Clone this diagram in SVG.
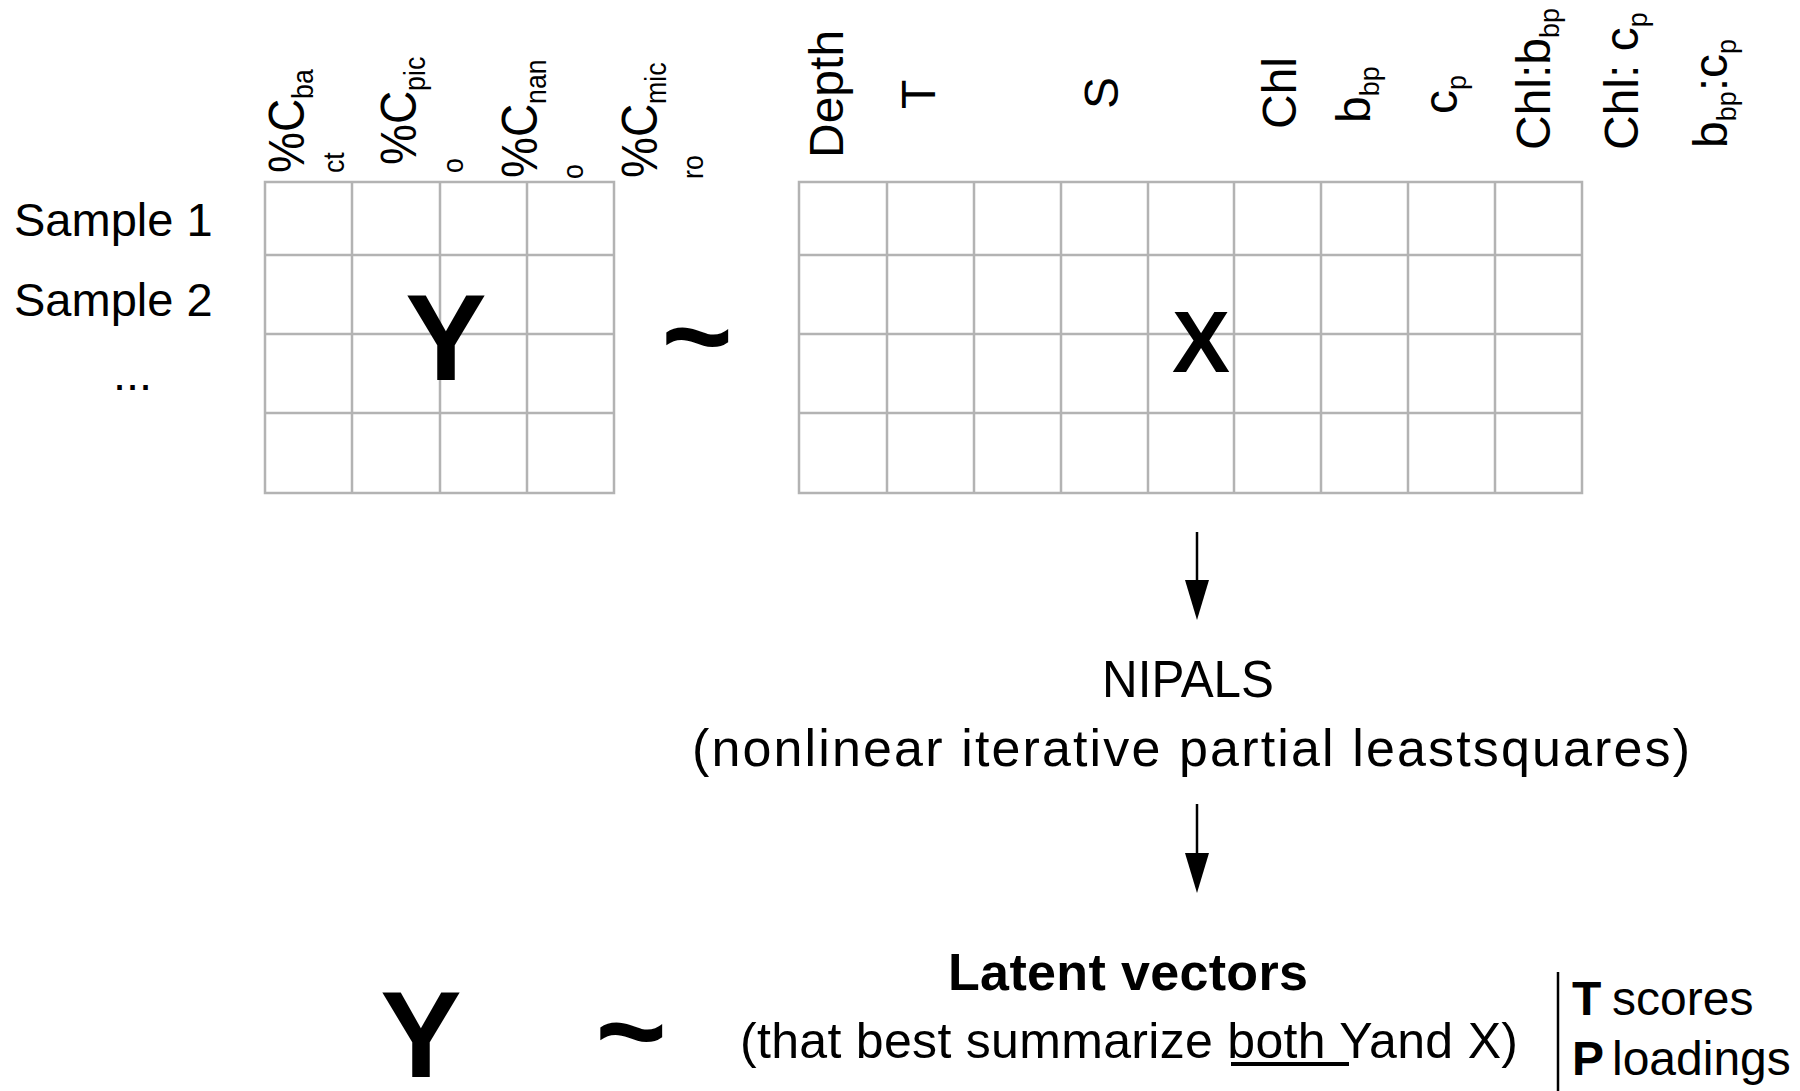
<svg xmlns="http://www.w3.org/2000/svg" width="1800" height="1091" viewBox="0 0 1800 1091">
<style>
text{font-family:"Liberation Sans",Arial,sans-serif;fill:#000}
.h{font-size:50px}
.hs{font-size:29px}
.hx{font-size:48px}
.s{font-size:27px}
.lbl{font-size:47px}
.big{font-size:122px;font-weight:bold}
.mid{font-size:52px}
.grid line,.grid rect{fill:none;stroke:#b3b3b3;stroke-width:2.5}
.conn line{stroke:#000;stroke-width:2.5}
</style>
<defs>
<marker id="ah" markerUnits="userSpaceOnUse" markerWidth="40" markerHeight="24" viewBox="0 0 40 24" refX="20" refY="12" orient="auto"><path d="M0,0L40,12L0,24z" fill="#000"/></marker>
</defs>
<rect width="1800" height="1091" fill="#fff"/>

<g id="y-headers">
<text class="h" transform="translate(304,173) rotate(-90) scale(0.92,1)">%C<tspan class="hs" dy="9">ba</tspan></text>
<text class="hs" transform="translate(344,173) rotate(-90) scale(0.92,1)">ct</text>
<text class="h" transform="translate(416,165) rotate(-90) scale(0.92,1)">%C<tspan class="hs" dy="9">pic</tspan></text>
<text class="hs" transform="translate(463,173) rotate(-90) scale(0.92,1)">o</text>
<text class="h" transform="translate(537,178) rotate(-90) scale(0.92,1)">%C<tspan class="hs" dy="9">nan</tspan></text>
<text class="hs" transform="translate(583,179) rotate(-90) scale(0.92,1)">o</text>
<text class="h" transform="translate(657,178) rotate(-90) scale(0.92,1)">%C<tspan class="hs" dy="9">mic</tspan></text>
<text class="hs" transform="translate(703,179) rotate(-90) scale(0.92,1)">ro</text>
</g>

<g id="x-headers">
<text class="hx" transform="translate(843,158) rotate(-90)">Depth</text>
<text class="hx" transform="translate(935,109) rotate(-90)">T</text>
<text class="hx" transform="translate(1118,109) rotate(-90)">S</text>
<text class="hx" transform="translate(1296,129) rotate(-90)">Chl</text>
<text class="hx" transform="translate(1370,123) rotate(-90)">b<tspan class="s" dy="9">bp</tspan></text>
<text class="hx" transform="translate(1457,114) rotate(-90)">c<tspan class="s" dy="9">p</tspan></text>
<text class="hx" transform="translate(1550,150) rotate(-90)">Chl:b<tspan class="s" dy="9">bp</tspan></text>
<text class="hx" transform="translate(1638,150) rotate(-90)">Chl: c<tspan class="s" dy="9">p</tspan></text>
<text class="hx" transform="translate(1727,148) rotate(-90)">b<tspan class="s" dy="9">bp</tspan><tspan dy="-9">:c</tspan><tspan class="s" dy="9">p</tspan></text>
</g>

<g id="row-labels">
<text class="lbl" x="14" y="236">Sample 1</text>
<text class="lbl" x="14" y="316">Sample 2</text>
<text class="lbl" x="113" y="390">...</text>
</g>

<g id="matrix-y" class="grid">
<rect x="265" y="182" width="349" height="311"/>
<line x1="352" y1="182" x2="352" y2="493"/>
<line x1="440" y1="182" x2="440" y2="493"/>
<line x1="527" y1="182" x2="527" y2="493"/>
<line x1="265" y1="255" x2="614" y2="255"/>
<line x1="265" y1="334" x2="614" y2="334"/>
<line x1="265" y1="413" x2="614" y2="413"/>
<text class="big" x="446" y="380" text-anchor="middle">Y</text>
</g>

<g id="approx-top">
<text class="big" x="697" y="378" text-anchor="middle">~</text>
</g>

<g id="matrix-x" class="grid">
<rect x="799" y="182" width="783" height="311"/>
<line x1="887" y1="182" x2="887" y2="493"/>
<line x1="974" y1="182" x2="974" y2="493"/>
<line x1="1061" y1="182" x2="1061" y2="493"/>
<line x1="1148" y1="182" x2="1148" y2="493"/>
<line x1="1234" y1="182" x2="1234" y2="493"/>
<line x1="1321" y1="182" x2="1321" y2="493"/>
<line x1="1408" y1="182" x2="1408" y2="493"/>
<line x1="1495" y1="182" x2="1495" y2="493"/>
<line x1="799" y1="255" x2="1582" y2="255"/>
<line x1="799" y1="334" x2="1582" y2="334"/>
<line x1="799" y1="413" x2="1582" y2="413"/>
<text x="1201" y="372" text-anchor="middle" style="font-size:87px;font-weight:bold">X</text>
</g>

<g id="nipals">
<text class="mid" x="1188" y="697" text-anchor="middle" textLength="172" lengthAdjust="spacingAndGlyphs">NIPALS</text>
<text class="mid" x="692" y="766" textLength="998" lengthAdjust="spacing">(nonlinear iterative partial leastsquares)</text>
</g>

<g id="result">
<text class="big" x="421" y="1077" text-anchor="middle">Y</text>
<text class="big" x="631" y="1073" text-anchor="middle">~</text>
<text x="1128" y="990" text-anchor="middle" textLength="360" style="font-size:52px;font-weight:bold">Latent vectors</text>
<text x="740" y="1058" textLength="778" lengthAdjust="spacing" style="font-size:50px">(that best summarize both Yand X)</text>
<rect x="1231" y="1062" width="118" height="4" fill="#000"/>
</g>

<g id="components">
<line x1="1558" y1="972" x2="1558" y2="1091" stroke="#000" stroke-width="2.5"/>
<text x="1572" y="1015" style="font-size:48px;font-weight:bold">T</text>
<text x="1612" y="1015" style="font-size:48px">scores</text>
<text x="1572" y="1075" style="font-size:48px;font-weight:bold">P</text>
<text x="1612" y="1075" style="font-size:48px">loadings</text>
</g>

<g id="connectors" class="conn">
<line x1="1197" y1="532" x2="1197" y2="600" marker-end="url(#ah)"/>
<line x1="1197" y1="804" x2="1197" y2="873" marker-end="url(#ah)"/>
</g>
</svg>
